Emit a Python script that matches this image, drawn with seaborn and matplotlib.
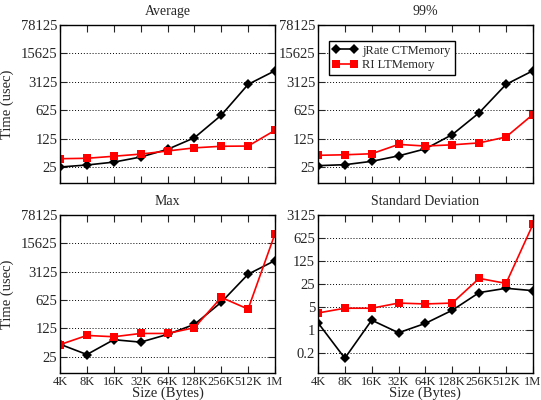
import numpy as np
import pandas as pd
import seaborn as sns
import matplotlib
matplotlib.use("Agg")
import matplotlib.pyplot as plt
from matplotlib.ticker import LogLocator, FixedLocator, NullFormatter

sizes = [4096, 8192, 16384, 32768, 65536, 131072, 262144, 524288, 1048576]
size_labels = ['4K', '8K', '16K', '32K', '64K', '128K', '256K', '512K', '1M']

avg_jrate = [25, 28, 33, 44, 68, 131, 470, 2700, 5850]
avg_ri = [40, 41, 46, 52, 62, 74, 81, 82, 200]

p99_jrate = [27, 28.5, 34.5, 47, 70, 157, 540, 2700, 5850]
p99_ri = [48.5, 50, 53, 90, 82, 88, 98, 137, 490]

max_jrate = [51, 28.5, 66, 57.5, 89, 157, 550, 2700, 5850]
max_ri = [50, 84, 78, 94, 94, 130, 725, 374, 26600]

std_jrate = [1.67, 0.14, 2.0, 0.83, 1.6, 4.0, 13.7, 18.5, 15.7]
std_ri = [3.3, 4.6, 4.6, 6.6, 6.2, 6.6, 37, 26, 1590]

panels = [
    ('Average', avg_jrate, avg_ri, [25, 125, 625, 3125, 15625, 78125], (10, 78125)),
    ('99%', p99_jrate, p99_ri, [25, 125, 625, 3125, 15625, 78125], (10, 78125)),
    ('Max', max_jrate, max_ri, [25, 125, 625, 3125, 15625, 78125], (10, 78125)),
    ('Standard Deviation', std_jrate, std_ri, [0.2, 1, 5, 25, 125, 625, 3125], (0.05, 3125)),
]

sns.set_style('ticks')
plt.rcParams['font.family'] = ['Liberation Serif', 'DejaVu Serif']
plt.rcParams['font.size'] = 10.5
plt.rcParams['axes.linewidth'] = 1.0

fig, axes = plt.subplots(2, 2, figsize=(5.41, 4.0), dpi=100)
fig.subplots_adjust(left=0.111, right=0.985, top=0.9375, bottom=0.0675, wspace=0.2, hspace=0.2)

for ax, (title, jr, ri, yt, ylim) in zip(axes.flat, panels):
    df = pd.DataFrame({
        'size': sizes * 2,
        'time': jr + ri,
        'series': ['jRate CTMemory'] * len(sizes) + ['RI LTMemory'] * len(sizes),
    })
    sns.lineplot(data=df, x='size', y='time', hue='series', style='series',
                 palette={'jRate CTMemory': 'black', 'RI LTMemory': 'red'},
                 markers={'jRate CTMemory': 'D', 'RI LTMemory': 's'},
                 dashes=False, markersize=5.5, markeredgewidth=0, linewidth=1.2,
                 ax=ax, legend=(title == '99%'))
    ax.set_xscale('log', base=2)
    ax.set_yscale('log', base=5)
    ax.set_xlim(sizes[0], sizes[-1])
    ax.set_ylim(*ylim)
    ax.xaxis.set_major_locator(FixedLocator(sizes))
    ax.xaxis.set_minor_locator(FixedLocator([]))
    ax.yaxis.set_major_locator(FixedLocator(yt))
    ax.yaxis.set_minor_locator(LogLocator(base=5, subs=(2, 3, 4)))
    ax.yaxis.set_minor_formatter(NullFormatter())
    ax.set_yticklabels([('%g' % v) for v in yt])
    ax.tick_params(which='both', direction='in', top=True, right=True, pad=2)
    ax.tick_params(axis='x', labelsize=9.0)
    ax.tick_params(which='major', length=5)
    ax.tick_params(which='minor', length=3)
    ax.grid(axis='y', which='major', linestyle=(0, (1, 2)), color='black', linewidth=0.7)
    ax.set_title(title, fontsize=10, pad=7)
    if ax in axes[1]:
        ax.set_xticklabels(size_labels)
        ax.set_xlabel('Size (Bytes)', labelpad=-1)
    else:
        ax.set_xticklabels([])
        ax.set_xlabel('')
    if ax in axes[:, 0]:
        ax.set_ylabel('Time (usec)', labelpad=5)
    else:
        ax.set_ylabel('')
    for s in ax.spines.values():
        s.set_color('black')

leg = axes[0, 1].legend(loc='upper left', bbox_to_anchor=(0.05, 0.9), numpoints=2,
                        fancybox=False, edgecolor='black', framealpha=1, fontsize=9,
                        handlelength=2.0, handletextpad=0.4, borderpad=0.3,
                        labelspacing=0.2, borderaxespad=0)
leg.get_frame().set_linewidth(1.0)

fig.savefig('out.png', dpi=100)
